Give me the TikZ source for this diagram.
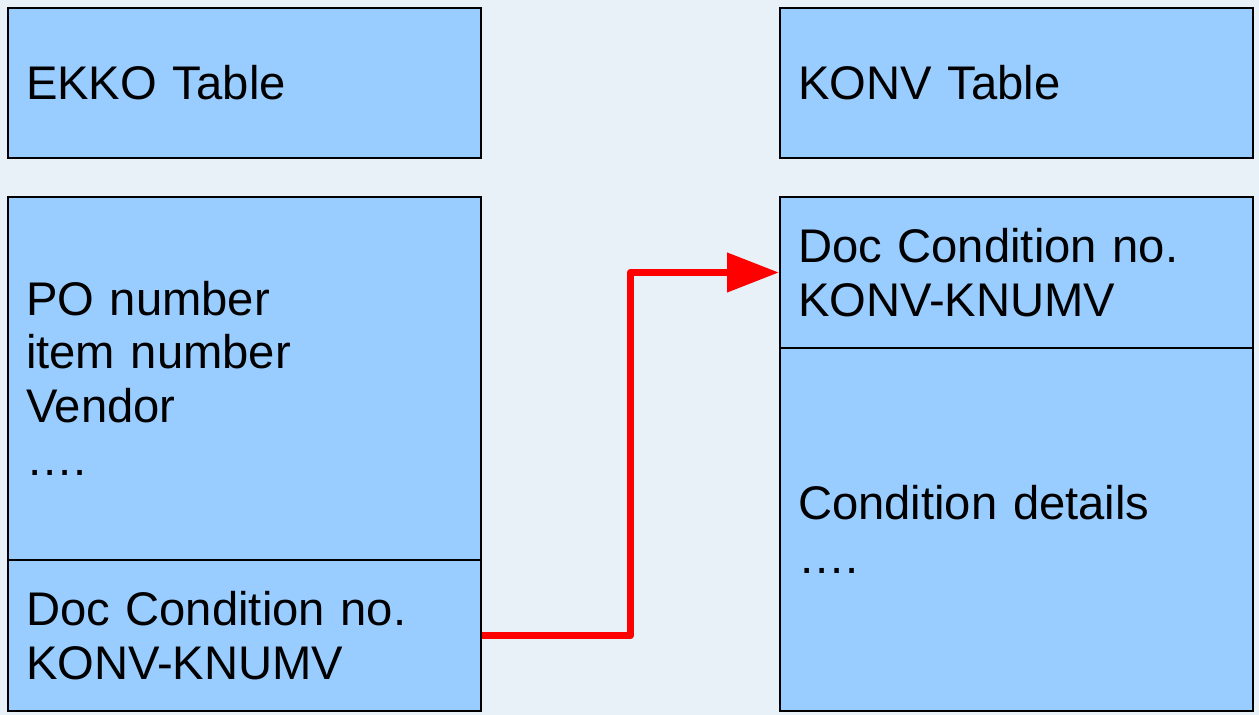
\documentclass[tikz,border=0pt]{standalone}
\usepackage{fontspec}
\setmainfont{Liberation Sans}
\usetikzlibrary{arrows.meta}
\definecolor{tablefill}{HTML}{99CCFF}
\definecolor{pagebg}{HTML}{E8F0F8}
\definecolor{linkred}{HTML}{FF0000}
\tikzset{
    tablebox/.style={rectangle, draw=black, line width=1pt, fill=tablefill,
        text width=218.5pt, inner xsep=9pt, align=left,
        font=\fontsize{23.6}{26.75}\selectfont},
    link/.style={draw=linkred, line width=3.75pt, line join=round,
        -{Triangle[length=26pt,width=19pt]}}
}
\begin{document}
\begin{tikzpicture}[x=0.5pt,y=-0.5pt]

    % background
    \fill[pagebg] (0,0) rectangle (1259,715);
    \useasboundingbox (0,0) rectangle (1259,715);

    % EKKO side
    \node[tablebox, minimum height=75pt] (ekkotitle) at (244.5,83) {EKKO Table};
    \node[tablebox, minimum height=181.5pt] (ekkofields) at (244.5,378.5) {PO number\\item number\\Vendor\\….};
    \node[tablebox, minimum height=75.5pt] (ekkokey) at (244.5,635.5) {Doc Condition no.\\KONV-KNUMV};

    % KONV side
    \node[tablebox, minimum height=75pt] (konvtitle) at (1016.5,83) {KONV Table};
    \node[tablebox, minimum height=75.5pt] (konvkey) at (1016.5,272.5) {Doc Condition no.\\KONV-KNUMV};
    \node[tablebox, minimum height=181.5pt] (konvdetails) at (1016.5,529.5) {Condition details\\….};

    % link
    \coordinate (bend) at (630.5,0);
    \draw[link] (ekkokey.east) -- (ekkokey.east -| bend) |- (konvkey.west); % EKKO key -> KONV key

\end{tikzpicture}
\end{document}
